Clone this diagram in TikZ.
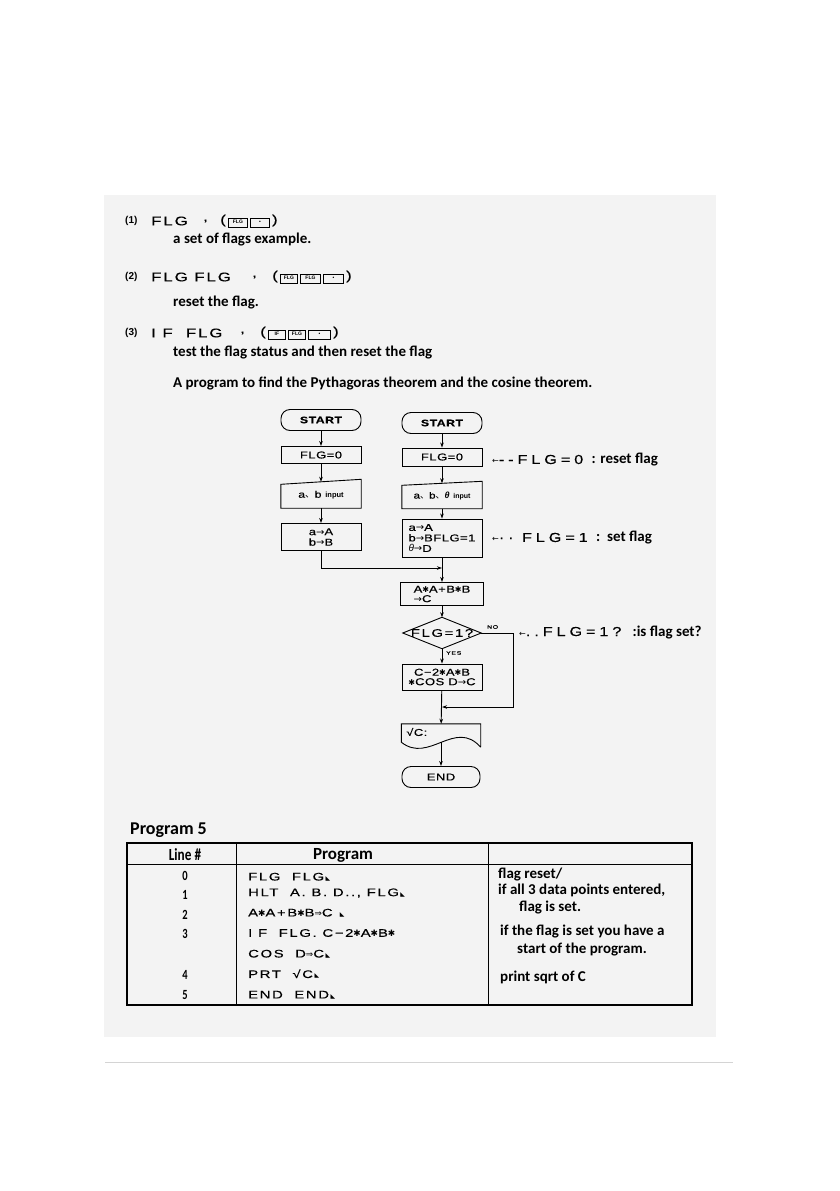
\documentclass[tikz,border=0pt]{standalone}
\usepackage{fontspec}
\setmainfont{Liberation Sans}
\newfontfamily\calcfont[FakeStretch=1.35,LetterSpace=15,FakeBold=0.3]{Liberation Sans}
\newfontfamily\boxfont[FakeStretch=1.3,LetterSpace=5,FakeBold=0.3]{Liberation Sans}
\newfontfamily\annfont[FakeStretch=1.25,LetterSpace=30,FakeBold=0.3]{Liberation Sans}
\newfontfamily\calibri{Carlito}
\newfontfamily\dejavu{DejaVu Sans}
\newfontfamily\cjkfont{Noto Sans CJK JP}
\usetikzlibrary{shapes.geometric, arrows.meta, positioning, calc}
\definecolor{panel}{HTML}{F3F3F3}
\definecolor{rulegrey}{HTML}{D4D4D4}

\newcommand{\hstar}{\scalebox{0.8}{\dejavu ✱}}
\newcommand{\tri}{\hspace{1.5pt}\scalebox{0.55}{\dejavu ◣}}
\newcommand{\dto}{{\dejavu\scalebox{0.8}{⇒}}}
\newcommand{\rarr}{{\dejavu\scalebox{1}[0.95]{→}}}
\newcommand{\jcomma}{{\cjkfont 、}}
\newcommand{\keycap}[2]{\fbox{\makebox[#1]{\rule[-2pt]{0pt}{6.5pt}\normalfont\bfseries\fontsize{5}{5}\selectfont #2}}}
\setlength{\fboxsep}{0.8pt}
\setlength{\fboxrule}{0.7pt}

\tikzset{
  flow/.style={draw, line width=0.9pt, inner sep=1.5pt, font=\boxfont\fontsize{10}{11}\selectfont},
  term/.style={flow, rounded corners=9pt, minimum width=80pt, minimum height=21pt},
  proc/.style={flow, minimum width=80pt, align=center},
  inbox/.style={inner sep=1.5pt, minimum width=80pt, font=\boxfont\fontsize{9.5}{11}\selectfont},
  arr/.style={line width=0.9pt, -{Stealth[length=5pt, width=3.5pt]}},
  note/.style={anchor=west, inner sep=0pt},
  desc/.style={note, font=\calibri\bfseries\fontsize{15}{17}\selectfont},
  cmd/.style={note, font=\calcfont\fontsize{12.5}{14}\selectfont},
  num/.style={note, font=\bfseries\fontsize{10}{12}\selectfont},
  ann/.style={note, font=\annfont\fontsize{13}{15}\selectfont},
  tiny/.style={note, font=\calcfont\fontsize{5}{6}\selectfont},
  prog/.style={note, font=\calcfont\fontsize{11}{13}\selectfont},
  cmt/.style={note, font=\calibri\bfseries\fontsize{15}{17}\selectfont},
  hdr/.style={inner sep=0pt, font=\calibri\bfseries\fontsize{17}{19}\selectfont},
  rownum/.style={inner sep=0pt, font=\calibri\bfseries\fontsize{14}{16}\selectfont}
}

\begin{document}
\begin{tikzpicture}[x=1pt, y=-1pt]
  \useasboundingbox (0,0) rectangle (839,1191);
  \fill[white] (0,0) rectangle (839,1191);
  \fill[panel] (104,195) rectangle (716,1037);
  \draw[rulegrey, line width=0.8pt] (105,1062) -- (733,1062);

  % key sequences
  \node[num] (num1) at (125,221) {(1)};
  \node[cmd] (cmd1) at (151,221) {FLG};
  \node[cmd] (sep1) at (203,221) {,};
  \node[cmd] (key1) at (220,221) {(\,\keycap{17pt}{FLG}\,\keycap{17pt}{•}\,)};
  \node[desc] (txt1) at (173,240) {a set of flags example.};

  \node[num] (num2) at (125,277) {(2)};
  \node[cmd] (cmd2) at (151,277) {FLG FLG};
  \node[cmd] (sep2) at (252,277) {,};
  \node[cmd] (key2) at (272,277) {(\,\keycap{15pt}{FLG}\,\keycap{18pt}{FLG}\,\keycap{18pt}{•}\,)};
  \node[desc] (txt2) at (173,303) {reset the flag.};

  \node[num] (num3) at (125,333) {(3)};
  \node[cmd] (cmd3) at (151,333) {I F\ \ FLG};
  \node[cmd] (sep3) at (240,333) {,};
  \node[cmd] (key3) at (260,333) {(\,\keycap{15pt}{IF}\,\keycap{15pt}{FLG}\,\keycap{20pt}{•}\,)};
  \node[desc] (txt3) at (173,353) {test the flag status and then reset the flag};
  \node[desc] (txt4) at (173,383) {A program to find the Pythagoras theorem and the cosine theorem.};

  % flowchart, left
  \node[term, font=\boxfont\bfseries\fontsize{9.5}{11}\selectfont] (lstart) at (321,420) {START};
  \node[proc, minimum height=17pt] (lflg) at (321,455) {FLG=0};
  \node[inbox, minimum height=26pt] (lin) at (321,495) {a\jcomma b {\normalfont\bfseries\fontsize{7.5}{9}\selectfont input}};
  \draw[line width=0.9pt] (lin.south west) -- (lin.south east) -- ($(lin.north east)+(0,-2.5)$) -- ($(lin.north west)+(0,2.5)$) -- cycle;
  \node[proc, minimum height=27pt, font=\boxfont\fontsize{10}{10.5}\selectfont] (lset) at (321,537) {a\rarr A\\b\rarr B};

  % flowchart, right
  \node[term, font=\boxfont\bfseries\fontsize{9.5}{11}\selectfont] (rstart) at (442,423) {START};
  \node[proc, minimum height=18pt] (rflg) at (442,457) {FLG=0};
  \node[inbox, minimum height=25pt, font=\boxfont\fontsize{9}{10}\selectfont] (rin) at (442,496) {a\jcomma b\jcomma {\normalfont\bfseries\itshape θ} {\normalfont\bfseries\fontsize{7}{9}\selectfont input}};
  \draw[line width=0.9pt] (rin.south west) -- (rin.south east) -- ($(rin.north east)+(0,-2)$) -- ($(rin.north west)+(0,2)$) -- cycle;
  \node[proc, minimum height=38pt, align=left, font=\boxfont\fontsize{10}{10.5}\selectfont] (rset) at (442,538) {a\rarr A\\b\rarr BFLG=1\\{\normalfont\itshape θ}\rarr D};
  \node[proc, minimum width=83pt, minimum height=23pt, align=left, font=\boxfont\fontsize{10}{9.5}\selectfont] (calc) at (442,594) {A\hstar A+B\hstar B\\\rarr C};
  \node[minimum width=78pt, minimum height=31pt, inner sep=0pt, font=\calcfont\fontsize{11}{12}\selectfont] (dec) at (442,633) {FLG=1?};
  \draw[line width=0.9pt] (dec.west) -- (dec.north) -- (dec.east) -- (dec.south) -- cycle;
  \node[proc, minimum height=26pt, font=\boxfont\fontsize{10}{9.5}\selectfont] (cos) at (442,677) {C−2\hstar A\hstar B\\\hstar COS D\rarr C};
  \node[inbox, minimum width=79pt, minimum height=18pt] (doc) at (441,733) {};
  \node[note, font=\boxfont\fontsize{10}{11}\selectfont] (doctxt) at (406,732) {√C:};
  \draw[line width=0.9pt] ($(doc.south east)+(0,5)$) -- (doc.north east) -- (doc.north west) -- (doc.south west)
    .. controls ($(doc.south)+(-12,22)$) and ($(doc.south)+(14,-24)$) .. ($(doc.south east)+(0,5)$);
  \node[term, minimum width=78pt, font=\boxfont\fontsize{10}{11}\selectfont] (end) at (441,777) {END};

  \node[tiny] (nolab) at (487,627) {NO};
  \node[tiny] (yeslab) at (446,653) {YES};

  % connectors
  \draw[arr] (lstart) -- (lflg);
  \draw[arr] (lflg) -- (lin);
  \draw[arr] (lin) -- (lset);
  \draw[arr] (rstart) -- (rflg);
  \draw[arr] (rflg) -- (rin);
  \draw[arr] (rin) -- (rset);
  \coordinate (mrg) at (442,568);
  \draw[arr] (lset) |- (mrg);
  \draw[arr] (rset) -- (calc);
  \draw[arr] (calc) -- (dec);
  \draw[arr] (dec) -- (cos);
  \coordinate (jn) at (442,707);
  \draw[arr] (dec.east) -- ++(32,0) |- (jn);
  \draw[arr] (cos) -- (doc);
  \draw[arr] (doc.south) -- (end);

  % side notes
  \node[ann] (ann1) at (492,460) {{\dejavu\fontsize{8}{8}\selectfont ←}--FLG=0 {\calibri\bfseries\fontsize{15}{17}\selectfont : reset flag}};
  \node[ann] (ann2) at (492,538) {{\dejavu\fontsize{8}{8}\selectfont ←}·· FLG=1 {\calibri\bfseries\fontsize{15}{17}\selectfont :\ \ set flag}};
  \node[ann] (ann3) at (519,632) {{\dejavu\fontsize{8}{8}\selectfont ←}..FLG=1? {\calibri\bfseries\fontsize{15}{17}\selectfont :is flag set?}};

  % program table
  \node[note, font=\calibri\bfseries\fontsize{18}{20}\selectfont] (ptitle) at (130,830) {Program 5};
  \draw[line width=1.8pt] (127,843) rectangle (692,1005);
  \draw[line width=0.8pt] (127,864) -- (692,864);
  \draw[line width=0.8pt] (236,843) -- (236,1005);
  \draw[line width=0.8pt] (488,843) -- (488,1005);
  \node[hdr] (hline) at (185,855) {\scalebox{0.78}[1]{Line \#}};
  \node[hdr] (hprog) at (343,855) {Program};
  \foreach \n/\y in {0/876,1/895,2/915,3/934,4/975,5/995}
    \node[rownum] (row\n) at (185,\y) {\scalebox{0.75}[1]{\n}};
  \foreach \y/\t [count=\i] in {877/{FLG\ \ FLG\tri}, 893/{HLT\ \ A. B. D.., FLG\tri},
      913/{A\hstar A+B\hstar B\dto C\ \tri}, 933/{I F\ \ FLG. C−2\hstar A\hstar B\hstar},
      954/{COS\ \ D\dto C\tri}, 974/{PRT\ \ √C\tri}, 995/{END\ \ END\tri}}
    \node[prog] (prog\i) at (248,\y) {\t};
  \node[cmt] (cmt1) at (498,874) {flag reset/};
  \node[cmt] (cmt2) at (498,890) {if all 3 data points entered,};
  \node[cmt] (cmt3) at (519,907) {flag is set.};
  \node[cmt] (cmt4) at (500,931) {if the flag is set you have a};
  \node[cmt] (cmt5) at (517,949) {start of the program.};
  \node[cmt] (cmt6) at (500,977) {print sqrt of C};
\end{tikzpicture}
\end{document}
